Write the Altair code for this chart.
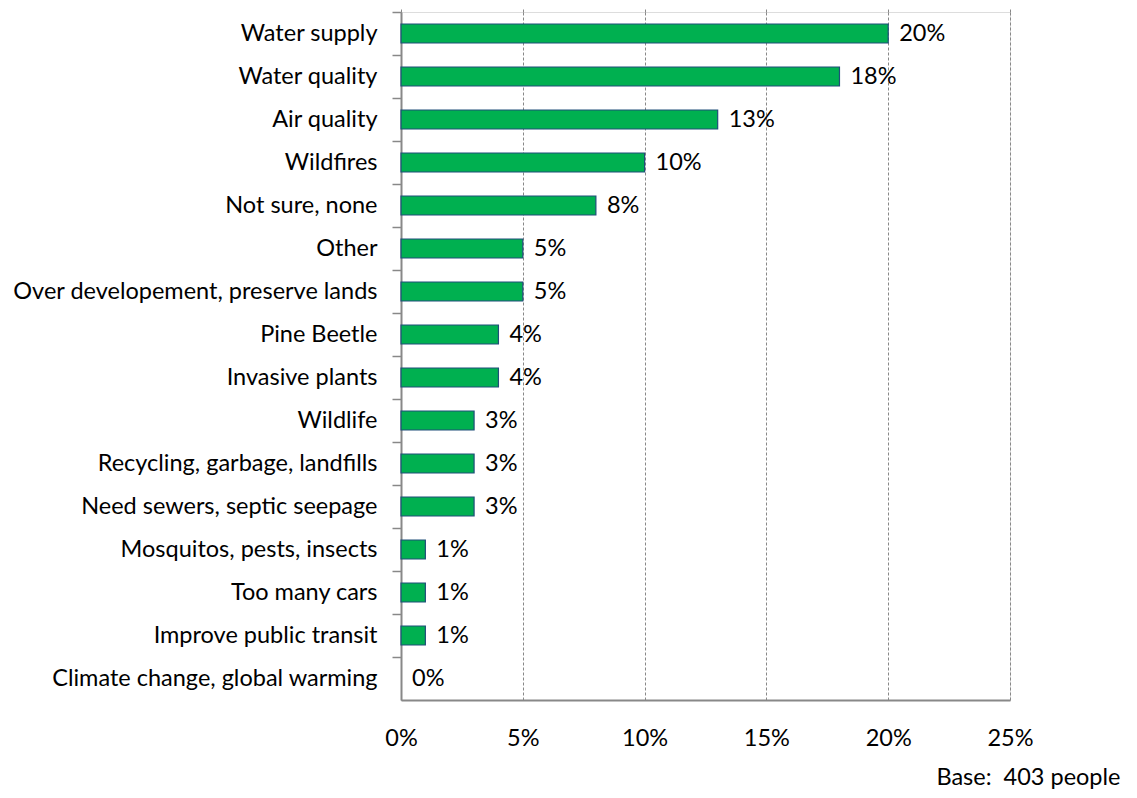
import altair as alt
import pandas as pd

categories = [
    "Water supply", "Water quality", "Air quality", "Wildfires", "Not sure, none",
    "Other", "Over developement, preserve lands", "Pine Beetle", "Invasive plants",
    "Wildlife", "Recycling, garbage, landfills", "Need sewers, septic seepage",
    "Mosquitos, pests, insects", "Too many cars", "Improve public transit",
    "Climate change, global warming",
]
values = [20, 18, 13, 10, 8, 5, 5, 4, 4, 3, 3, 3, 1, 1, 1, 0]
x_ticks = [0, 5, 10, 15, 20, 25]
base_note = "Base:\u00a0 403 people"

df = pd.DataFrame({"cat": categories, "val": [v / 100 for v in values]})
df["lbl"] = [f"{v}%" for v in values]

FONT = "Lato"
FS = 23.5

y_axis = alt.Axis(title=None, labelFont=FONT, labelFontSize=FS, labelColor="black",
                  tickSize=9, tickColor="#888888", tickWidth=1.5, bandPosition=0,
                  labelPadding=15, domainColor="#888888", domainWidth=2,
                  labelLimit=500, grid=False)
y_enc = alt.Y("cat:N", sort=categories,
              scale=alt.Scale(paddingInner=0, paddingOuter=0), axis=y_axis)

xscale = alt.Scale(domain=[0, 0.25], nice=False)

bars = alt.Chart(df).mark_bar(size=19, color="#00B050", stroke="#1F4E79").encode(
    x=alt.X("val:Q", scale=xscale,
            axis=alt.Axis(values=[t / 100 for t in x_ticks], format=".0%", title=base_note,
                          titleFont=FONT, titleFontSize=FS, titleFontWeight="normal",
                          titleColor="black", titleAlign="right", titleAnchor="end",
                          titleX=719, titleY=65, titleBaseline="top",
                          labelFont=FONT, labelFontSize=FS, labelColor="black", labelFlush=False,
                          labelPadding=26, ticks=False, domainColor="#888888", domainWidth=2,
                          grid=True, gridDash=[3, 2], gridColor="#888888", gridWidth=1)),
    y=y_enc,
    strokeWidth=alt.condition(alt.datum.val > 0, alt.value(1.2), alt.value(0)),
)

text = alt.Chart(df).mark_text(align="left", dx=11, font=FONT, fontSize=FS, color="black").encode(
    x=alt.X("val:Q", scale=xscale,
            axis=alt.Axis(orient="top", values=[t / 100 for t in x_ticks], labels=False, title=None,
                          ticks=True, tickSize=8, tickDash=[3, 2], tickColor="#888888",
                          domain=False, grid=False)),
    y=y_enc,
    text="lbl:N",
)

chart = alt.layer(bars, text).resolve_axis(x="independent").properties(
    width=609, height=688,
    autosize=alt.AutoSizeParams(type="none"),
    padding={"left": 393, "top": 4, "right": 119, "bottom": 90},
).configure_view(stroke="#888888", strokeWidth=2).configure(background="white")

chart.save("out.html", embed_options={"renderer": "svg", "actions": False})
